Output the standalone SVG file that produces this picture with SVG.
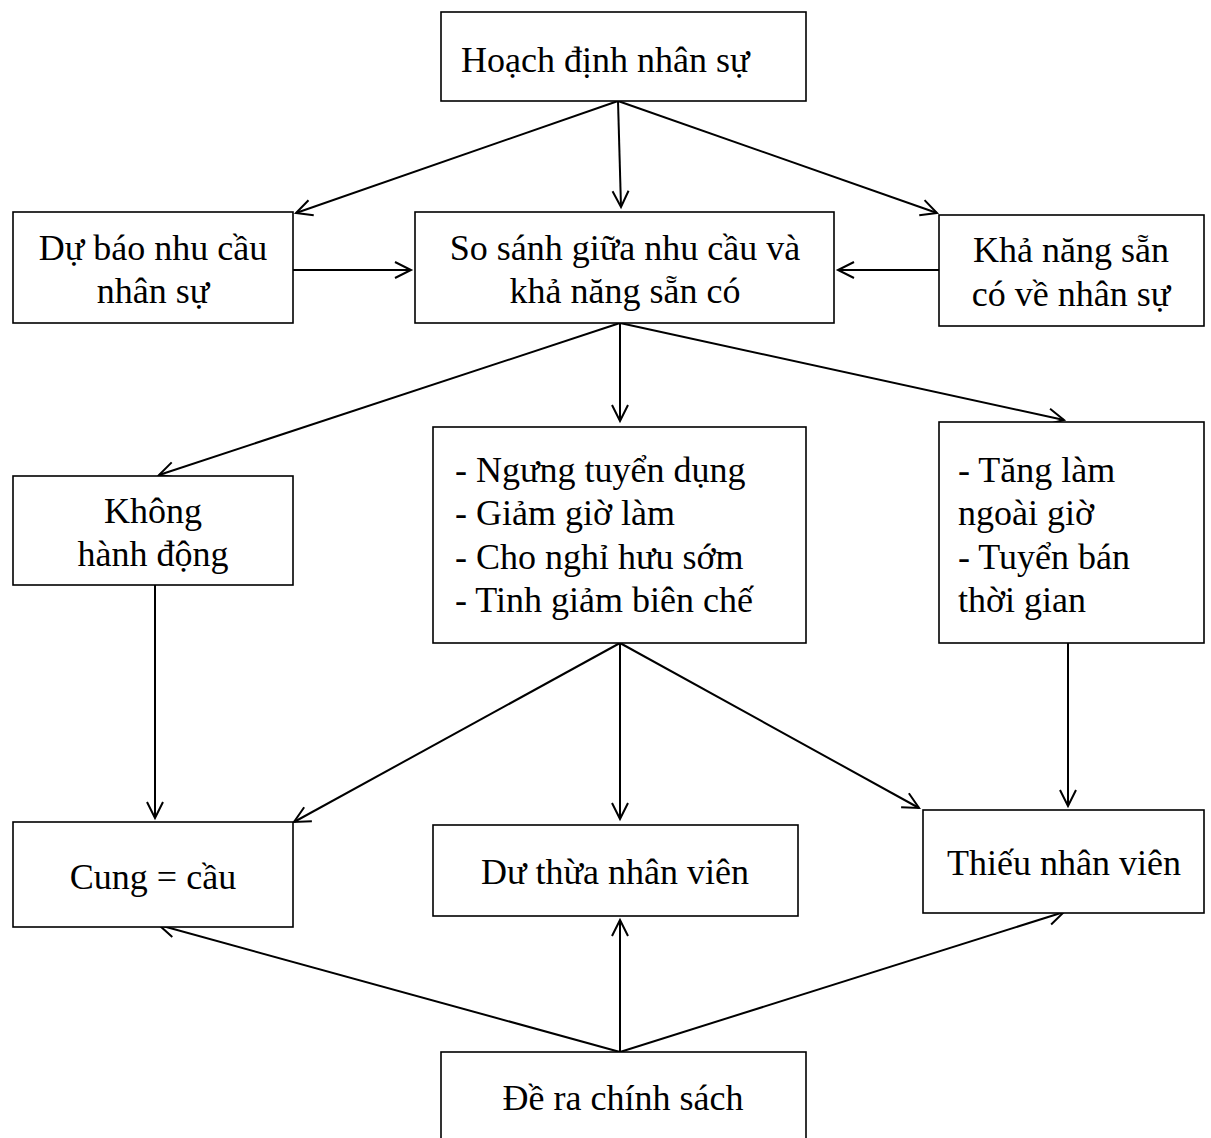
<svg xmlns="http://www.w3.org/2000/svg" width="1211" height="1138" viewBox="0 0 1211 1138">
<defs>
<marker id="ah" markerUnits="userSpaceOnUse" markerWidth="20" markerHeight="20" viewBox="0 0 20 20" refX="17" refY="10" orient="auto">
<path d="M1,2 L17,10 L1,18" fill="none" stroke="#000" stroke-width="2"/>
</marker>
</defs>
<style>
.box{fill:#fff;stroke:#000;stroke-width:1.6}
.t{font-family:"Liberation Serif","Times New Roman",serif;font-size:36px;fill:#000}
.c{text-anchor:middle}
.ln{stroke:#000;stroke-width:2;fill:none;marker-end:url(#ah)}
</style>
<rect width="1211" height="1138" fill="#fff"/>
<g id="connectors">
<line class="ln" x1="618" y1="101" x2="296" y2="213"/>
<line class="ln" x1="618" y1="101" x2="621" y2="207"/>
<line class="ln" x1="618" y1="101" x2="937" y2="213"/>
<line class="ln" x1="293" y1="270" x2="411" y2="270"/>
<line class="ln" x1="939" y1="270" x2="838" y2="270"/>
<line class="ln" x1="620" y1="323" x2="159" y2="475"/>
<line class="ln" x1="620" y1="323" x2="620" y2="421"/>
<line class="ln" x1="620" y1="323" x2="1064" y2="420"/>
<line class="ln" x1="155" y1="585" x2="155" y2="818"/>
<line class="ln" x1="620" y1="643" x2="294" y2="822"/>
<line class="ln" x1="620" y1="643" x2="620" y2="819"/>
<line class="ln" x1="620" y1="643" x2="919" y2="808"/>
<line class="ln" x1="1068" y1="643" x2="1068" y2="806"/>
<line class="ln" x1="620" y1="1052" x2="159" y2="925"/>
<line class="ln" x1="620" y1="1052" x2="620" y2="920"/>
<line class="ln" x1="620" y1="1052" x2="1064" y2="912"/>
</g>
<g id="n1"><rect class="box" x="441" y="12" width="365" height="89"/><text class="t" x="461" y="72">Hoạch định nhân sự</text></g>
<g id="n2"><rect class="box" x="13" y="212" width="280" height="111"/><text class="t c" x="153" y="260">Dự báo nhu cầu</text><text class="t c" x="153" y="303">nhân sự</text></g>
<g id="n3"><rect class="box" x="415" y="212" width="419" height="111"/><text class="t c" x="625" y="260">So sánh giữa nhu cầu và</text><text class="t c" x="625" y="303">khả năng sẵn có</text></g>
<g id="n4"><rect class="box" x="939" y="215" width="265" height="111"/><text class="t c" x="1071" y="262">Khả năng sẵn</text><text class="t c" x="1071" y="306">có về nhân sự</text></g>
<g id="n5"><rect class="box" x="13" y="476" width="280" height="109"/><text class="t c" x="153" y="523">Không</text><text class="t c" x="153" y="566">hành động</text></g>
<g id="n6"><rect class="box" x="433" y="427" width="373" height="216"/>
<text class="t" x="455" y="482">- Ngưng tuyển dụng</text>
<text class="t" x="455" y="525">- Giảm giờ làm</text>
<text class="t" x="455" y="569">- Cho nghỉ hưu sớm</text>
<text class="t" x="455" y="612">- Tinh giảm biên chế</text></g>
<g id="n7"><rect class="box" x="939" y="422" width="265" height="221"/>
<text class="t" x="958" y="482">- Tăng làm</text>
<text class="t" x="958" y="525">ngoài giờ</text>
<text class="t" x="958" y="569">- Tuyển bán</text>
<text class="t" x="958" y="612">thời gian</text></g>
<g id="n8"><rect class="box" x="13" y="822" width="280" height="105"/><text class="t c" x="153" y="889">Cung = cầu</text></g>
<g id="n9"><rect class="box" x="433" y="825" width="365" height="91"/><text class="t c" x="615" y="884">Dư thừa nhân viên</text></g>
<g id="n10"><rect class="box" x="923" y="810" width="281" height="103"/><text class="t c" x="1064" y="875">Thiếu nhân viên</text></g>
<g id="n11"><rect class="box" x="441" y="1052" width="365" height="95"/><text class="t c" x="623" y="1110">Đề ra chính sách</text></g>
</svg>
